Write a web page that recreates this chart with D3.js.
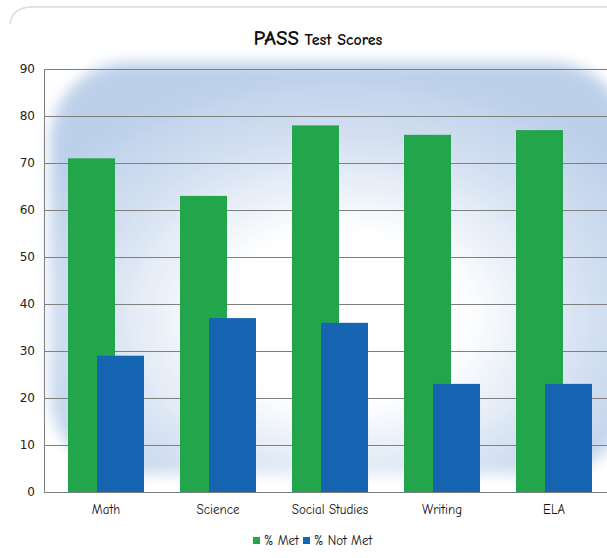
<!DOCTYPE html>
<meta charset="utf-8">
<head>
<style>
body{margin:0;background:#fff;}
text{font-family:"Comic Sans MS","Comic Neue","DejaVu Sans",sans-serif;fill:#111;}
.ytick text{font-family:"DejaVu Sans",sans-serif;font-size:12px;fill:#222;}
.xtick text{font-size:13px;fill:#111;}
.grid line{stroke:#7f7f7f;stroke-width:1;}
</style>
</head>
<body>
<script src="https://d3js.org/d3.v7.min.js"></script>
<script>

var subjects=["Math","Science","Social Studies","Writing","ELA"];
var met=[71,63,78,76,77];
var notMet=[29,37,36,23,23];
var series=["% Met","% Not Met"];
var yTicks=[0,10,20,30,40,50,60,70,80,90];
var color={"% Met":"#23a64b","% Not Met":"#1565b3"};

var W=607,H=558;
var svg=d3.select("body").append("svg").attr("width",W).attr("height",H);

var x=d3.scaleBand().domain(subjects).range([44,604]);
var y=d3.scaleLinear().domain([0,90]).range([492,69]);
// offset of each series inside its band (bars overlap)
var xs=d3.scaleOrdinal().domain(series).range([24,53]);
var bw=47;

var defs=svg.append("defs");
var rg=defs.append("radialGradient").attr("id","glow").attr("cx","50%").attr("cy","62%").attr("r","60%")
	.attr("gradientTransform","translate(0.0,0) scale(1,1)");
rg.append("stop").attr("offset","0%").attr("stop-color","#ffffff");
rg.append("stop").attr("offset","35%").attr("stop-color","#ffffff");
rg.append("stop").attr("offset","70%").attr("stop-color","#d6e2f2");
rg.append("stop").attr("offset","100%").attr("stop-color","#bdd0ea");
defs.append("filter").attr("id","soft").attr("x","-10%").attr("y","-10%").attr("width","120%").attr("height","120%")
	.append("feGaussianBlur").attr("stdDeviation",7);

// frame line at top
svg.append("path").attr("d","M10,24 Q12,8 30,7 L607,7").attr("fill","none").attr("stroke","#dcdcdc").attr("stroke-width",1.5);

// background glow
svg.append("rect").attr("x",50).attr("y",62).attr("width",580).attr("height",412)
	.attr("rx",80).attr("fill","url(#glow)").attr("filter","url(#soft)");

// title
var t=svg.append("text").attr("x",318).attr("y",45).attr("text-anchor","middle").style("font-weight","bold");
t.append("tspan").style("font-size","21px").text("PASS");
t.append("tspan").style("font-size","16px").text(" Test Scores");

// grid
svg.append("g").attr("class","grid").selectAll("line").data(yTicks).join("line")
	.attr("x1",44).attr("x2",W).attr("y1",d=>y(d)+0.5).attr("y2",d=>y(d)+0.5);

// y axis
var ya=svg.append("g").attr("class","ytick").attr("transform","translate(44,0)")
	.call(d3.axisLeft(y).tickValues(yTicks).tickSize(0).tickPadding(9));
ya.select(".domain").attr("stroke","#7f7f7f");

// bars
var rows=subjects.map((s,i)=>({subject:s,vals:[{k:"% Met",v:met[i]},{k:"% Not Met",v:notMet[i]}]}));
svg.append("g").selectAll("g").data(rows).join("g")
	.attr("transform",d=>"translate("+x(d.subject)+",0)")
	.selectAll("rect").data(d=>d.vals).join("rect")
	.attr("x",d=>xs(d.k)).attr("width",bw)
	.attr("y",d=>y(d.v)).attr("height",d=>y(0)-y(d.v))
	.attr("fill",d=>color[d.k]);

// x axis
var xa=svg.append("g").attr("class","xtick").attr("transform","translate(6,492)")
	.call(d3.axisBottom(x).tickSize(0).tickPadding(13));
xa.select(".domain").remove();
svg.append("line").attr("x1",44).attr("x2",W).attr("y1",492.5).attr("y2",492.5).attr("stroke","#7f7f7f");

// legend
var leg=svg.append("g").attr("transform","translate(253,541)");
var lx=[0,50];
series.forEach(function(s,i){
	leg.append("rect").attr("x",lx[i]).attr("y",-4).attr("width",7).attr("height",7).attr("fill",color[s]);
	leg.append("text").attr("x",lx[i]+11).attr("y",4).style("font-size","13px").text(s);
});
</script>
</body>
</html>
